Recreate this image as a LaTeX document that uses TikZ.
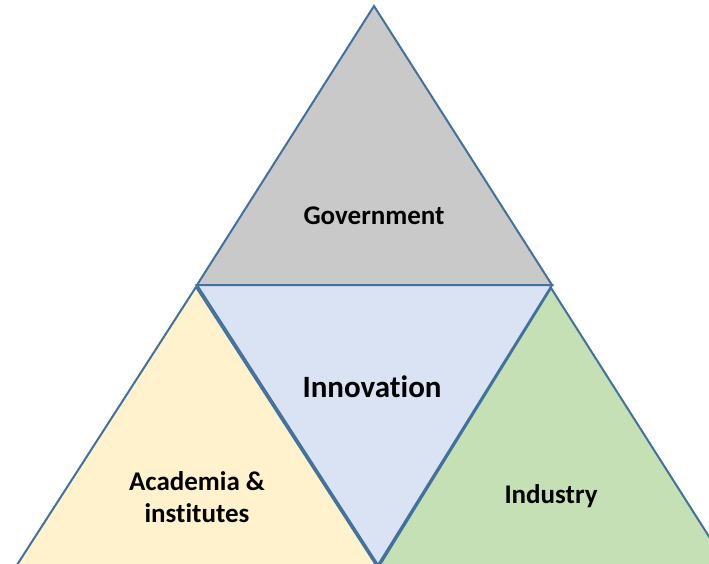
\documentclass[tikz,border=0pt]{standalone}
\usepackage{fontspec}
\setmainfont{Carlito}[Ligatures=NoCommon]
\usetikzlibrary{positioning}
\definecolor{edgeblue}{HTML}{41719C}
\definecolor{govgray}{HTML}{C9C9C9}
\definecolor{innoblue}{HTML}{DAE3F3}
\definecolor{acayellow}{HTML}{FFF2CC}
\definecolor{indgreen}{HTML}{C5E0B4}
\tikzstyle{tri} = [draw=edgeblue, line width=2pt, line join=miter]
\tikzstyle{label} = [font=\bfseries\fontsize{27}{32}\selectfont, align=center, inner sep=0pt]
\tikzstyle{biglabel} = [font=\bfseries\fontsize{31}{36}\selectfont, align=center, inner sep=0pt]

\begin{document}
\begin{tikzpicture}[x=1pt, y=-1pt]
    \useasboundingbox (0,0) rectangle (709,564);
    \clip (0,0) rectangle (709,564);
    % Corners
    \coordinate (top) at (374,6);
    \coordinate (midl) at (197,285);
    \coordinate (midr) at (552,285);
    \coordinate (botl) at (15,568);
    \coordinate (botm) at (378,565);
    \coordinate (botr) at (729,568);
    \coordinate (apexl) at (196,287);
    \coordinate (apexr) at (551,288);
    \coordinate (innerl) at (378,568);
    % Draw triangles
    \filldraw [tri, fill=govgray] (top) -- (midr) -- (midl) -- cycle;
    \filldraw [tri, fill=acayellow] (apexl) -- (innerl) -- (botl) -- cycle;
    \filldraw [tri, fill=indgreen] (apexr) -- (botr) -- (innerl) -- cycle;
    \filldraw [tri, fill=innoblue] (midl) -- (midr) -- (botm) -- cycle;
    % Place labels
    \node [label] (gov) at (374,216) {Government};
    \node [biglabel] (inno) at (372,387) {Innovation};
    \node [label] (aca) at (197,497) {Academia \&\\institutes};
    \node [label] (ind) at (551,496) {Industry};
\end{tikzpicture}
\end{document}
